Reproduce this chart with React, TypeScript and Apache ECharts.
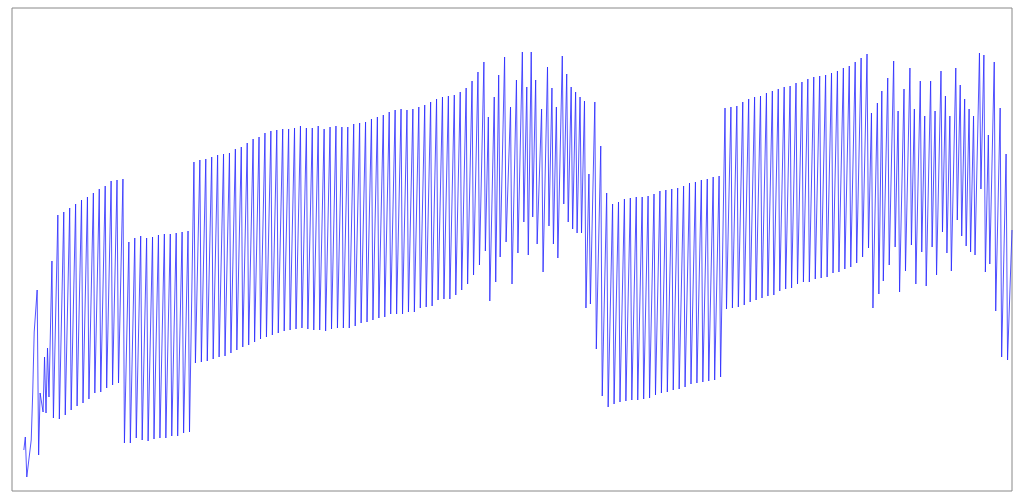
import React, { useEffect, useRef } from "react";
import * as echarts from "echarts";

// Opening irregular stretch (sample index, value)
const startIdx = [0, 1, 2, 5, 6, 7, 9, 10, 11, 13, 14, 15, 16, 17, 19, 20];
const startVal = [41, 54, 14, 51, 98, 159, 201, 36, 98, 79, 134, 78, 143, 94, 230, 73];

// Each cycle: peak at peakIdx, trough one sample later
const peakIdx = [
  23, 27, 31, 35, 39, 43, 47, 51, 55, 59, 63, 67,
  71, 75, 79, 83, 87, 91, 95, 99, 103, 107, 111,
  115, 119, 123, 127, 131, 135, 139, 143, 147, 151, 155, 159, 163, 167, 171, 175,
  179, 183, 187, 191, 195, 199, 203, 207, 211, 215, 219, 223, 227, 231, 235, 239,
  243, 247, 251, 255, 259, 263, 267, 271, 275, 279, 283, 287, 291,
  295, 299, 303, 307, 311, 314, 318, 321, 325, 329, 333, 337, 340, 343, 346,
  350, 354, 357, 360, 364, 367, 370, 373, 376, 379, 382, 386, 390, 394,
  398, 402, 406, 410, 414, 418, 422, 426, 430, 434, 438, 442, 446, 450, 454, 458, 462, 466, 470,
  474, 478, 482, 486, 490, 494, 498, 502, 506, 510, 514, 518, 522, 526, 530, 534, 538, 542,
  546, 550, 554, 558, 562, 566, 570,
  573, 577, 580, 584, 588, 591, 595, 599, 602, 606, 609, 613, 616, 620, 623, 626, 630, 633,
  636, 639, 642, 646, 649, 652, 656, 660, 664,
];

const peakVal = [
  276, 279, 283, 287, 291, 294, 298, 302, 305, 310, 311, 312,
  249, 253, 255, 253, 254, 256, 257, 257, 258, 259, 260,
  329, 331, 332, 334, 336, 337, 338, 342, 344, 348, 352, 354, 358, 360, 361, 362,
  362, 363, 365, 363, 363, 365, 362, 364, 365, 364, 364, 367, 368, 369, 372, 374,
  376, 379, 381, 382, 381, 382, 384, 386, 389, 392, 394, 395, 396,
  399, 403, 410, 419, 429, 374, 394, 416, 434, 384, 411, 439, 404, 439, 411,
  382, 424, 403, 384, 435, 417, 404, 399, 394, 390, 317, 389, 345, 298,
  287, 289, 292, 293, 294, 294, 295, 297, 300, 301, 302, 303, 305, 308, 309, 311, 312, 314, 315,
  383, 384, 385, 389, 392, 394, 395, 398, 400, 402, 404, 405, 408, 409, 412, 414, 415, 416,
  418, 420, 423, 425, 429, 433, 437,
  378, 388, 400, 413, 430, 380, 402, 423, 382, 410, 375, 410, 380, 420, 395, 375, 423, 406,
  392, 382, 375, 438, 436, 356, 429, 383, 337,
];

const troughVal = [
  72, 76, 81, 85, 88, 92, 98, 99, 103, 106, 108, 48,
  48, 53, 51, 50, 52, 53, 53, 55, 55, 58, 59,
  128, 129, 130, 132, 134, 135, 138, 141, 144, 146, 149, 152, 154, 156, 158, 160,
  161, 162, 163, 162, 161, 161, 160, 162, 163, 163, 163, 165, 168, 169, 171, 173,
  174, 177, 177, 177, 179, 179, 183, 184, 185, 191, 192, 192, 196,
  201, 207, 216, 226, 240, 190, 209, 234, 249, 207, 238, 269, 236, 274, 247,
  219, 265, 247, 233, 287, 269, 262, 258, 258, 183, 187, 142, 95, 84,
  87, 89, 90, 91, 91, 92, 93, 96, 98, 99, 101, 102, 104, 107, 108, 109, 110, 111, 114,
  182, 183, 184, 186, 189, 191, 193, 195, 196, 200, 202, 203, 207, 209, 209, 212, 213, 214,
  218, 219, 222, 224, 228, 234, 243,
  183, 197, 210, 226, 244, 199, 220, 246, 207, 239, 205, 244, 216, 259, 238, 220, 271, 255,
  245, 239, 236, 302, 219, 227, 180, 134, 131,
];

const endIdx = [668];
const endVal = [261];

export default function App() {
  const ref = useRef<HTMLDivElement>(null);

  useEffect(() => {
    if (!ref.current) return;
    const chart = echarts.init(ref.current, undefined, { renderer: "svg" });

    const data: [number, number][] = [];
    startIdx.forEach((x, i) => data.push([x, startVal[i]]));
    peakIdx.forEach((x, i) => {
      data.push([x, peakVal[i]]);
      data.push([x + 1, troughVal[i]]);
    });
    endIdx.forEach((x, i) => data.push([x, endVal[i]]));

    chart.setOption({
      animation: false,
      backgroundColor: "#ffffff",
      grid: {
        left: 12,
        top: 8,
        width: 1000,
        height: 483,
        show: true,
        borderColor: "#888888",
        borderWidth: 1,
        backgroundColor: "transparent",
      },
      xAxis: {
        type: "value",
        min: -8,
        max: 668,
        show: false,
        splitLine: { show: false },
      },
      yAxis: {
        type: "value",
        min: 0,
        max: 483,
        show: false,
        splitLine: { show: false },
      },
      series: [
        {
          type: "line",
          data,
          showSymbol: false,
          symbol: "none",
          lineStyle: { color: "rgba(40,40,255,0.8)", width: 1 },
          clip: true,
        },
      ],
    });

    return () => chart.dispose();
  }, []);

  return (
    <div
      ref={ref}
      style={{ position: "fixed", left: 0, top: 0, width: 1024, height: 500, background: "#fff" }}
    />
  );
}
